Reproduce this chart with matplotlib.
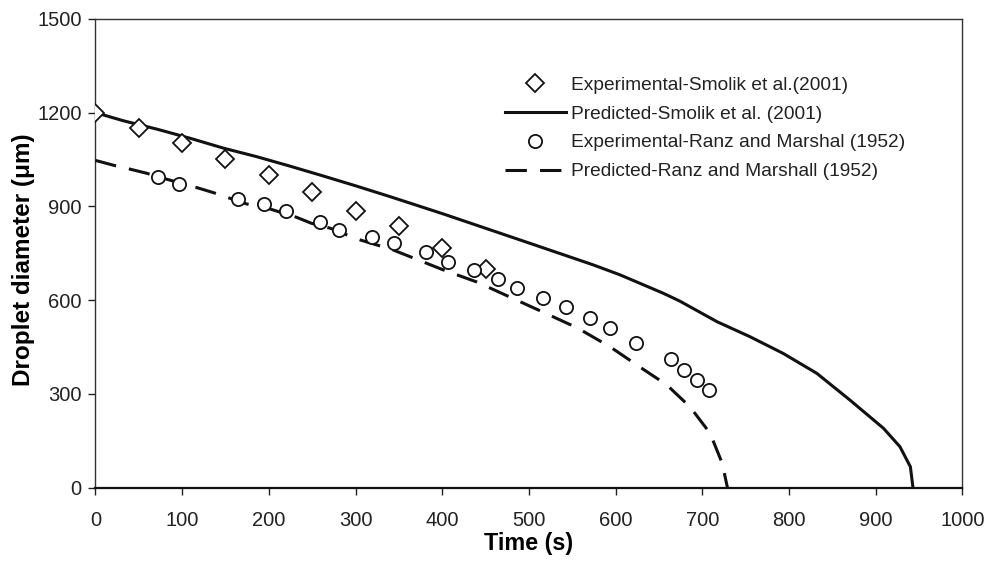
import numpy as np
import matplotlib
matplotlib.use("Agg")
import matplotlib.pyplot as plt

plt.rcParams['font.family'] = ['Liberation Sans', 'DejaVu Sans']

# Experimental - Smolik et al. (2001)
t_smolik_exp = [0, 50, 100, 150, 200, 250, 300, 350, 400, 450]
d_smolik_exp = [1200, 1151, 1103, 1052, 1000, 946, 885, 837, 767, 700]

# Predicted - Smolik et al. (2001)
t_smolik_pred = [0, 32, 71, 109, 148, 186, 224, 263, 301, 340, 401, 501, 574,
                 605, 655, 674, 717, 755, 793, 832, 870, 909, 928, 940, 943]
d_smolik_pred = [1200, 1174, 1147, 1118, 1086, 1059, 1029, 997, 965, 931, 876,
                 782, 713, 681, 622, 597, 531, 483, 430, 366, 281, 190, 131, 67, 0]

# Experimental - Ranz and Marshal (1952)
t_ranz_exp = [72, 96, 165, 194, 220, 259, 281, 319, 344, 381, 407, 437, 464,
              486, 516, 543, 570, 594, 624, 664, 679, 694, 708]
d_ranz_exp = [995, 973, 924, 907, 886, 849, 825, 802, 782, 753, 721, 697, 668,
              639, 606, 577, 544, 511, 462, 411, 377, 345, 312]

# Predicted - Ranz and Marshall (1952)
t_ranz_pred = [0, 23, 40, 59, 82, 117, 136, 155, 174, 201, 232, 249, 271, 290,
               305, 324, 343, 401, 440, 478, 516, 556, 594, 628, 659, 686, 709,
               723, 729]
d_ranz_pred = [1047, 1030, 1019, 1006, 987, 960, 944, 926, 908, 892, 865, 846,
               830, 809, 793, 777, 761, 697, 658, 610, 562, 511, 450, 386, 329,
               258, 174, 78, 0]

x_ticks = [0, 100, 200, 300, 400, 500, 600, 700, 800, 900, 1000]
y_ticks = [0, 300, 600, 900, 1200, 1500]

fig = plt.figure(figsize=(9.95, 5.66), dpi=100)
ax = fig.add_axes([95.4 / 995, 1 - 487.7 / 566, 867 / 995, (487.7 - 18.8) / 566])

ax.plot(t_smolik_exp, d_smolik_exp, linestyle='none', marker='D', markersize=8.7,
        markerfacecolor='white', markeredgecolor='#111111', markeredgewidth=1.3,
        label='Experimental-Smolik et al.(2001)', zorder=4)
ax.plot(t_smolik_pred, d_smolik_pred, color='#111111', linewidth=2.2,
        label='Predicted-Smolik et al. (2001)', zorder=3)
ax.plot(t_ranz_exp, d_ranz_exp, linestyle='none', marker='o', markersize=9.5,
        markerfacecolor='white', markeredgecolor='#111111', markeredgewidth=1.3,
        label='Experimental-Ranz and Marshal (1952)', zorder=4)
ax.plot(t_ranz_pred, d_ranz_pred, color='#111111', linewidth=2.2,
        linestyle=(0, (7.0, 4.3)),
        label='Predicted-Ranz and Marshall (1952)', zorder=3)

ax.set_xlim(0, 1000)
ax.set_ylim(0, 1500)
ax.set_xticks(x_ticks)
ax.set_yticks(y_ticks)
ax.tick_params(axis='both', direction='out', length=5, width=1,
               labelsize=14.5, colors='#222222')
ax.tick_params(axis='x', pad=12)
ax.tick_params(axis='y', pad=5)

for side in ['top', 'right', 'left']:
    ax.spines[side].set_linewidth(1.0)
    ax.spines[side].set_color('#333333')
ax.spines['bottom'].set_linewidth(1.6)
ax.spines['bottom'].set_color('#111111')

ax.set_xlabel('Time (s)', fontsize=16.8, fontweight='bold', va='top')
ax.xaxis.set_label_coords(0.5, (487.7 - 532) / 468.9)
ax.set_ylabel('Droplet diameter (μm)', fontsize=17.5, fontweight='bold')
ax.yaxis.set_label_coords((35.5 - 95.4) / 867, (487.7 - 259.5) / 468.9)

leg = ax.legend(loc='upper left', bbox_to_anchor=(0.472, 0.877), frameon=False,
                fontsize=13.75, handlelength=3.2, handletextpad=0.3,
                labelspacing=0.6, borderpad=0, borderaxespad=0)
for txt in leg.get_texts():
    txt.set_color('#222222')

fig.savefig('out.png', dpi=100)
